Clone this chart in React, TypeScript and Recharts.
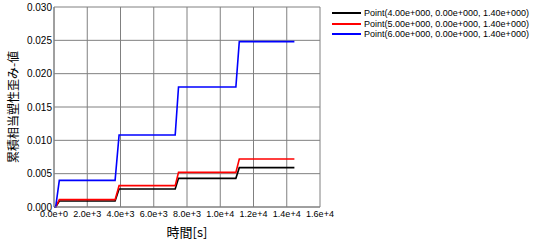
import React from "react";
import { LineChart, Line, XAxis, YAxis, CartesianGrid } from "recharts";

// Time samples [s] at the corners of each loading step
const times = [0, 100, 320, 3675, 3915, 7290, 7490, 10940, 11145, 14460];

// Accumulated equivalent plastic strain at three probe points
const point4 = [0, 0, 0.0009, 0.0009, 0.0027, 0.0027, 0.0043, 0.0043, 0.0059, 0.0059];
const point5 = [0, 0, 0.0011, 0.0011, 0.0032, 0.0032, 0.0052, 0.0052, 0.0072, 0.0072];
const point6 = [0, 0, 0.004, 0.004, 0.0108, 0.0108, 0.018, 0.018, 0.0248, 0.0248];

const seriesNames = [
  "Point(4.00e+000, 0.00e+000, 1.40e+000)",
  "Point(5.00e+000, 0.00e+000, 1.40e+000)",
  "Point(6.00e+000, 0.00e+000, 1.40e+000)",
];
const seriesColors = ["#000000", "#ff0000", "#0000ff"];

const xTicks = [0, 2000, 4000, 6000, 8000, 10000, 12000, 14000, 16000];
const xTickLabels = ["0.0e+0", "2.0e+3", "4.0e+3", "6.0e+3", "8.0e+3", "1.0e+4", "1.2e+4", "1.4e+4", "1.6e+4"];
const yTicks = [0, 0.005, 0.01, 0.015, 0.02, 0.025, 0.03];
const yTickLabels = ["0.000", "0.005", "0.010", "0.015", "0.020", "0.025", "0.030"];

const xTitle = "時間[s]";
const yTitle = "累積相当塑性歪み-値";

const data = times.map((t, i) => ({ t, p4: point4[i], p5: point5[i], p6: point6[i] }));
const keys = ["p4", "p5", "p6"];

const FONT = "'Liberation Sans', Arial, sans-serif";
const CJK = "'Noto Sans CJK JP', sans-serif";

const YTitle = (props: any) => {
  const vb = props.viewBox || {};
  const cx = 12;
  const cy = vb.y + vb.height / 2;
  return (
    <text
      x={cx}
      y={cy}
      transform={`rotate(-90, ${cx}, ${cy})`}
      textAnchor="middle"
      dominantBaseline="central"
      fontSize={12}
      fontFamily={CJK}
      fill="#000"
    >
      {yTitle}
    </text>
  );
};

export default function App() {
  return (
    <div style={{ position: "absolute", left: 0, top: 0, width: 537, height: 245, background: "#fff" }}>
      <LineChart width={537} height={245} data={data} margin={{ top: 7, right: 217, bottom: 0, left: 0 }}>
        <CartesianGrid stroke="#808080" strokeWidth={1} />
        <XAxis
          dataKey="t"
          type="number"
          domain={[0, 16000]}
          ticks={xTicks}
          tickFormatter={(v: number) => xTickLabels[xTicks.indexOf(v)]}
          interval={0}
          tickSize={0}
          tickMargin={4}
          height={38}
          stroke="#808080"
          tick={{ fill: "#000", fontSize: 9, fontFamily: FONT }}
          label={{ value: xTitle, position: "insideBottom", offset: 8, fill: "#000", fontSize: 13, fontFamily: CJK }}
        />
        <YAxis
          type="number"
          domain={[0, 0.03]}
          ticks={yTicks}
          tickFormatter={(v: number) => yTickLabels[yTicks.indexOf(v)]}
          interval={0}
          tickSize={0}
          tickMargin={2}
          width={54}
          stroke="#808080"
          tick={{ fill: "#000", fontSize: 10, fontFamily: FONT }}
          label={<YTitle />}
        />
        {keys.map((k, i) => (
          <Line
            key={k}
            dataKey={k}
            name={seriesNames[i]}
            type="linear"
            stroke={seriesColors[i]}
            strokeWidth={1.6}
            dot={false}
            isAnimationActive={false}
          />
        ))}
      </LineChart>
      <div style={{ position: "absolute", left: 332, top: 8, fontFamily: FONT, fontSize: 9, color: "#000" }}>
        {seriesNames.map((n, i) => (
          <div key={n} style={{ display: "flex", alignItems: "center", height: 10.5 }}>
            <div style={{ width: 29, height: 0, borderTop: `2px solid ${seriesColors[i]}`, marginRight: 3 }} />
            <span style={{ whiteSpace: "nowrap" }}>{n}</span>
          </div>
        ))}
      </div>
    </div>
  );
}
